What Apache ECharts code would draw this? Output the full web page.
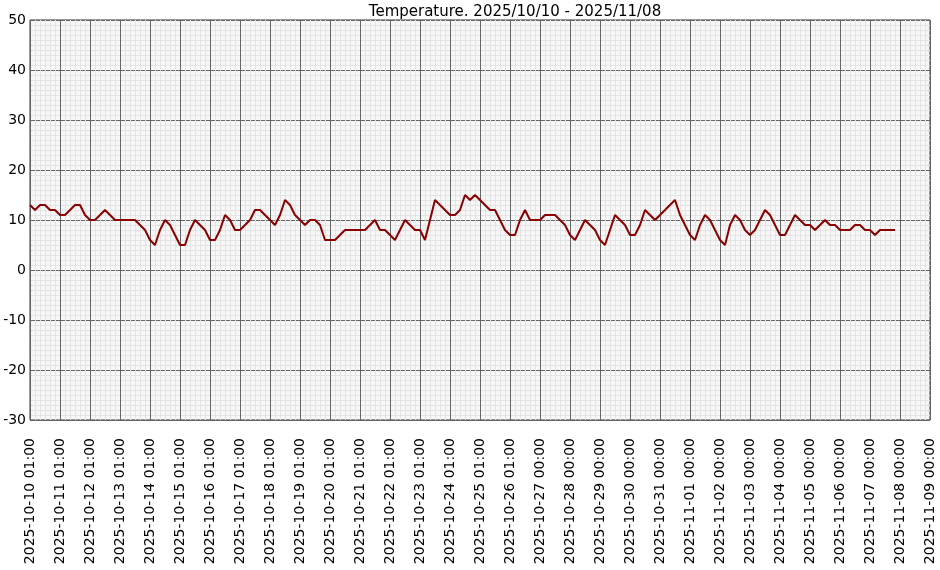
<!DOCTYPE html>
<html><head><meta charset="utf-8">
<script src="https://cdn.jsdelivr.net/npm/echarts@6/dist/echarts.min.js"></script>
<style>body{margin:0;background:#fff}#c{width:940px;height:570px}</style>
</head><body><div id="c"></div>
<script>
const title = 'Temperature. 2025/10/10 - 2025/11/08';
const tickLabels = ['2025-10-10 01:00','2025-10-11 01:00','2025-10-12 01:00','2025-10-13 01:00','2025-10-14 01:00','2025-10-15 01:00','2025-10-16 01:00','2025-10-17 01:00','2025-10-18 01:00','2025-10-19 01:00','2025-10-20 01:00','2025-10-21 01:00','2025-10-22 01:00','2025-10-23 01:00','2025-10-24 01:00','2025-10-25 01:00','2025-10-26 01:00','2025-10-27 00:00','2025-10-28 00:00','2025-10-29 00:00','2025-10-30 00:00','2025-10-31 00:00','2025-11-01 00:00','2025-11-02 00:00','2025-11-03 00:00','2025-11-04 00:00','2025-11-05 00:00','2025-11-06 00:00','2025-11-07 00:00','2025-11-08 00:00','2025-11-09 00:00'];
// temperature every 4 hours
const temps = [13,12,13,13,12,12,11,11,12,13,13,11,10,10,11,12,11,10,10,10,10,10,9,8,6,5,8,10,9,7,
5,5,8,10,9,8,6,6,8,11,10,8,8,9,10,12,12,11,10,9,11,14,13,11,10,9,10,10,9,6,
6,6,7,8,8,8,8,8,9,10,8,8,7,6,8,10,9,8,8,6,10,14,13,12,11,11,12,15,14,15,
14,13,12,12,10,8,7,7,10,12,10,10,10,11,11,11,10,9,7,6,8,10,9,8,6,5,8,11,10,9,
7,7,9,12,11,10,11,12,13,14,11,9,7,6,9,11,10,8,6,5,9,11,10,8,7,8,10,12,11,9,
7,7,9,11,10,9,9,8,9,10,9,9,8,8,8,9,9,8,8,7,8,8,8,8];
const stepsPerDay = 6;
const chart = echarts.init(document.getElementById('c'));
chart.setOption({
  backgroundColor:'#ffffff',
  animation:false,
  title:{text:title,left:510,top:0,textAlign:'center',textStyle:{fontFamily:'DejaVu Sans',fontSize:15,fontWeight:'normal',color:'#000'}},
  grid:{left:30,right:10,top:20,bottom:150,show:true,backgroundColor:'#f7f7f7',borderColor:'#333',borderWidth:1},
  xAxis:{type:'value',min:0,max:(tickLabels.length-1)*stepsPerDay,interval:stepsPerDay,
    axisLine:{show:false},axisTick:{show:false},
    axisLabel:{rotate:90,fontFamily:'DejaVu Sans',fontSize:14,color:'#000',margin:18,
      formatter:v=>tickLabels[Math.round(v/stepsPerDay)]||''},
    splitLine:{show:true,lineStyle:{color:'#666',width:1,type:'solid'}},
    minorTick:{show:false,splitNumber:stepsPerDay},
    minorSplitLine:{show:true,lineStyle:{color:'#e4e4e4',width:1,type:'solid'}}},
  yAxis:{type:'value',min:-30,max:50,interval:10,
    axisLine:{show:false},axisTick:{show:false},
    axisLabel:{fontFamily:'DejaVu Sans',fontSize:14,color:'#000',margin:4},
    splitLine:{show:true,lineStyle:{color:'#666',width:1,type:'solid'}},
    minorTick:{show:false,splitNumber:10},
    minorSplitLine:{show:true,lineStyle:{color:'#e4e4e4',width:1,type:'solid'}}},
  series:[{type:'line',data:temps.map((v,i)=>[i,v]),showSymbol:false,
    lineStyle:{color:'#8b0000',width:2},itemStyle:{color:'#8b0000'}}]
});
</script></body></html>
